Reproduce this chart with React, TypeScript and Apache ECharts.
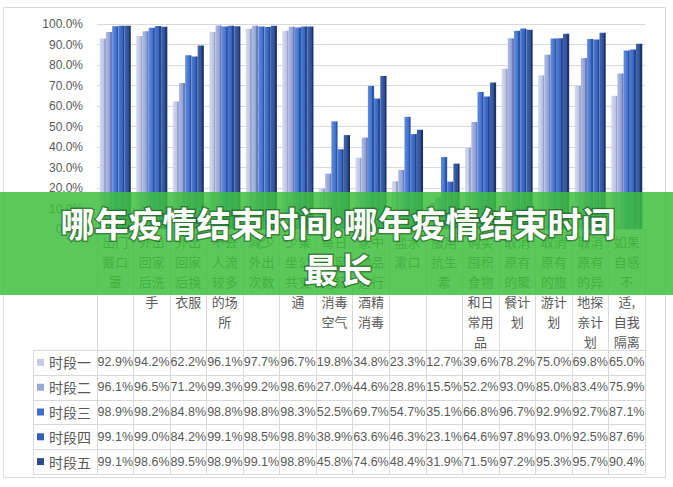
import { useEffect, useRef } from 'react'
import * as echarts from 'echarts'

// 类别（按原图换行）
const categories = [
  '出门\n戴口\n罩', '外出\n回家\n后洗\n手', '外出\n回家\n后换\n衣服', '不去\n人流\n较多\n的场\n所', '减少\n外出\n次数',
  '少乘\n坐公\n共交\n通', '每日\n开窗\n用醋\n消毒\n空气', '家中\n物品\n进行\n酒精\n消毒', '盐水\n漱口', '服用\n抗生\n素',
  '购买\n囤积\n食物\n和日\n常用\n品', '取消\n原有\n的聚\n餐计\n划', '取消\n原有\n的旅\n游计\n划', '取消\n原有\n的异\n地探\n亲计\n划', '如果\n自感\n不\n适,\n自我\n隔离',
]
const seriesNames = ['时段一', '时段二', '时段三', '时段四', '时段五']
const period1 = [92.9, 94.2, 62.2, 96.1, 97.7, 96.7, 19.8, 34.8, 23.3, 12.7, 39.6, 78.2, 75.0, 69.8, 65.0]
const period2 = [96.1, 96.5, 71.2, 99.3, 99.2, 98.6, 27.0, 44.6, 28.8, 15.5, 52.2, 93.0, 85.0, 83.4, 75.9]
const period3 = [98.9, 98.2, 84.8, 98.8, 98.8, 98.3, 52.5, 69.7, 54.7, 35.1, 66.8, 96.7, 92.9, 92.7, 87.1]
const period4 = [99.1, 99.0, 84.2, 99.1, 98.5, 98.8, 38.9, 63.6, 46.3, 23.1, 64.6, 97.8, 93.0, 92.5, 87.6]
const period5 = [99.1, 98.6, 89.5, 98.9, 99.1, 98.8, 45.8, 74.6, 48.4, 31.9, 71.5, 97.2, 95.3, 95.7, 90.4]
const allSeries = [period1, period2, period3, period4, period5]
const titleLines = ['哪年疫情结束时间:哪年疫情结束时间', '最长']

// 样式
const swatch = ['#c5cbe6', '#97a7d8', '#3d6ecb', '#305eb8', '#2b4a8e']
const faces = [
  ['#d6dbef', '#bcc4e4', '#9aa3c8'],
  ['#afbbe4', '#8d9ed5', '#6d7db5'],
  ['#618ddf', '#3f6fcc', '#2c55a6'],
  ['#4f7bd1', '#3460bb', '#24488f'],
  ['#4266b0', '#2c4c93', '#1d3466'],
]
const W = 673, H = 487
const gridL = 97, gridR = 645, axisY = 229, gridT = 24
const tableTop = 350, rowH = 24.8, legendL = 33
const txt = '#595959', line = '#d9d9d9'

export default function App() {
  const ref = useRef<HTMLDivElement>(null)

  useEffect(() => {
    document.body.style.margin = '0'
    if (!ref.current) return
    const chart = echarts.init(ref.current, null, { renderer: 'svg' })

    const rowAxes = allSeries.map((vals, r) => ({
      type: 'category' as const, gridIndex: 0, position: 'bottom' as const,
      offset: tableTop + rowH * (r + 0.5) - axisY,
      data: vals.map(v => v.toFixed(1) + '%'),
      axisLine: { show: false }, axisTick: { show: false },
      axisLabel: { interval: 0, margin: 0, verticalAlign: 'middle' as const, color: txt, fontSize: 12.5, fontFamily: '"Liberation Sans", Arial' },
    }))

    const graphics: any[] = [
      { type: 'rect', shape: { x: 3.5, y: 7.5, width: 662, height: 470 }, style: { fill: 'none', stroke: line, lineWidth: 1 }, z: -1 },
    ]
    for (let r = 0; r <= 5; r++) {
      const y = Math.round(tableTop + rowH * r) + 0.5
      graphics.push({ type: 'line', shape: { x1: legendL, y1: y, x2: gridR, y2: y }, style: { stroke: line, lineWidth: 1 } })
    }
    graphics.push({ type: 'line', shape: { x1: legendL + 0.5, y1: tableTop, x2: legendL + 0.5, y2: tableTop + rowH * 5 }, style: { stroke: line, lineWidth: 1 } })
    seriesNames.forEach((n, r) => {
      const cy = tableTop + rowH * (r + 0.5)
      graphics.push({ type: 'rect', shape: { x: 37, y: cy - 3.5, width: 7, height: 7 }, style: { fill: swatch[r] } })
      graphics.push({ type: 'text', x: 49, y: cy, style: { text: n, fill: txt, fontSize: 14, fontFamily: '"Noto Sans CJK SC"', textVerticalAlign: 'middle' } })
    })
    // 绿色横幅与标题
    graphics.push({ type: 'rect', shape: { x: 0, y: 192, width: W, height: 103 }, style: { fill: 'rgba(62,190,62,0.85)' }, z: 100 })
    titleLines.forEach((t, i) => {
      graphics.push({
        type: 'text', x: 338, y: 222 + i * 46, z: 101,
        style: {
          text: t, fill: '#ffffff', fontSize: 34, fontWeight: 'bold', fontFamily: '"Noto Sans CJK SC"',
          textAlign: 'center', textVerticalAlign: 'middle', stroke: 'rgba(0,0,0,0.35)', lineWidth: 3,
        },
      })
    })

    chart.setOption({
      animation: false,
      grid: { left: gridL, right: W - gridR, top: gridT, height: axisY - gridT },
      xAxis: [
        {
          type: 'category', data: categories,
          axisLine: { lineStyle: { color: line } },
          axisTick: { show: true, length: tableTop + rowH * 5 - axisY, lineStyle: { color: line } },
          axisLabel: { interval: 0, margin: 2, color: txt, fontSize: 13, lineHeight: 20, fontFamily: '"Noto Sans CJK SC"', verticalAlign: 'top' },
        },
        ...rowAxes,
      ],
      yAxis: {
        type: 'value', min: 0, max: 100, interval: 10,
        axisLine: { show: false }, axisTick: { show: false },
        axisLabel: { margin: 14, color: txt, fontSize: 12, fontFamily: '"Liberation Sans", Arial', formatter: (v: number) => v.toFixed(1) + '%' },
        splitLine: { lineStyle: { color: line, width: 1 } },
      },
      series: allSeries.map((vals, i) => ({
        name: seriesNames[i], type: 'bar', data: vals, xAxisIndex: 0,
        barGap: '0%', barCategoryGap: '15%',
        itemStyle: {
          color: new echarts.graphic.LinearGradient(0, 0, 1, 0, [
            { offset: 0, color: faces[i][0] }, { offset: 0.7, color: faces[i][1] },
            { offset: 0.71, color: faces[i][2] }, { offset: 1, color: faces[i][2] },
          ]),
        },
      })),
      graphic: graphics,
    })
    return () => chart.dispose()
  }, [])

  return <div ref={ref} style={{ position: 'fixed', left: 0, top: 0, width: W, height: H, background: '#fff' }} />
}
